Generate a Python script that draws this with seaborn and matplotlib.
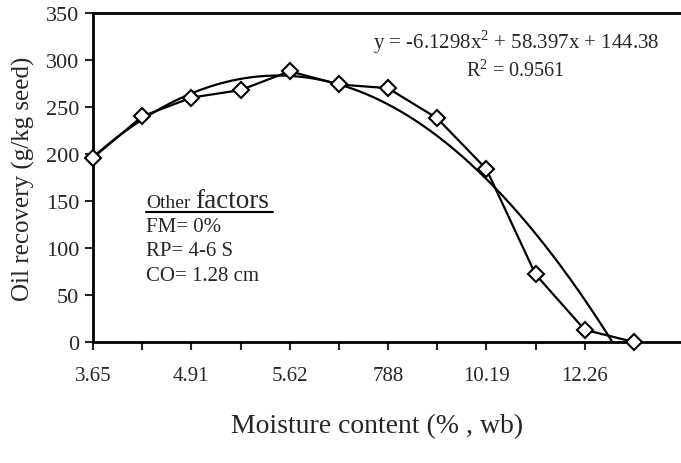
import numpy as np
import pandas as pd
import matplotlib
matplotlib.use("Agg")
import matplotlib.pyplot as plt
import seaborn as sns

# Data
positions = [1, 2, 3, 4, 5, 6, 7, 8, 9, 10, 11, 12]
oil_recovery = [196, 240, 260, 268, 288, 274, 270, 238, 184, 72, 13, 0]
tick_labels = ["3.65", "", "4.91", "", "5.62", "", "788", "", "10.19", "", "12.26", "", ""]
poly_coef = [-6.1298, 58.397, 144.38]  # trendline from the chart's equation

sns.set_style("ticks")
plt.rcParams['font.family'] = ['Liberation Serif', 'DejaVu Serif']
plt.rcParams['mathtext.fontset'] = 'custom'
plt.rcParams['mathtext.rm'] = 'Liberation Serif'

fig = plt.figure(figsize=(6.81, 4.64), dpi=100)
ax = fig.add_axes([93/681, 1 - 343/464, (683-93)/681, (343-14)/464])

df = pd.DataFrame({"pos": positions, "oil": oil_recovery})

# Trendline
xs = np.linspace(1, 12, 400)
ys = np.polyval(poly_coef, xs)
ax.plot(xs, ys, color="black", lw=1.6, zorder=2)

sns.lineplot(data=df, x="pos", y="oil", ax=ax, color="black", lw=1.6,
             marker="D", markersize=8, markerfacecolor="white",
             markeredgecolor="black", markeredgewidth=1.5, zorder=3)
ax.lines[-1].set_clip_on(False)

ax.set_xlim(1, 13)
ax.set_ylim(0, 350)
ax.set_xticks(range(1, 14))
ax.set_xticklabels(tick_labels)
ax.tick_params(axis="x", length=6, width=1.5, direction="out", labelsize=15, pad=11)
ax.set_yticks(range(0, 351, 50))
ax.tick_params(axis="y", length=6, width=1.5, direction="out", labelsize=16, pad=4)

for s in ["left", "bottom", "top"]:
    ax.spines[s].set_linewidth(2)
    ax.spines[s].set_color("black")
ax.spines["right"].set_visible(False)

ax.set_xlabel("")
ax.set_ylabel("Oil recovery (g/kg seed)", fontsize=18, labelpad=8)
fig.text(377/681, 1 - 427/464, "Moisture content (% , wb)", fontsize=20,
         ha="center", va="center")

# Equation
fig.text(516/681, 1 - 42/464, r"y = -6.1298x$^{2}$ + 58.397x + 144.38",
         fontsize=15, ha="center", va="center")
fig.text(515/681, 1 - 71/464, r"R$^{2}$ = 0.9561", fontsize=14.5,
         ha="center", va="center")

# Other factors box
fig.text(146/681, 1 - 204/464, "Other", fontsize=14, ha="left", va="center")
fig.text(195/681, 1 - 202/464, "factors", fontsize=19.5, ha="left", va="center")
fig.add_artist(plt.Line2D([146/681, 273/681], [1 - 213/464, 1 - 213/464],
                          color="black", lw=1.5))
fig.text(146/681, 1 - 228/464, "FM= 0%", fontsize=15, ha="left", va="center")
fig.text(146/681, 1 - 252/464, "RP= 4-6 S", fontsize=15, ha="left", va="center")
fig.text(146/681, 1 - 277/464, "CO= 1.28 cm", fontsize=15, ha="left", va="center")

fig.savefig("out.png", dpi=100)
